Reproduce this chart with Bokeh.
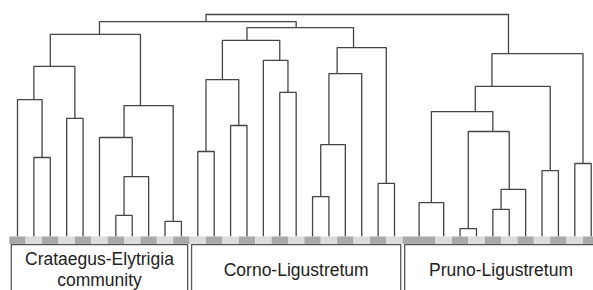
from bokeh.plotting import figure
from bokeh.models import Range1d
from bokeh.core.properties import value
from bokeh.embed import file_html
from bokeh.resources import INLINE

# ---- data ----
# leaf positions along the axis (order of the dendrogram leaves)
leaf_pos = [0, 1, 2, 3, 4, 5, 6, 7, 8, 9, 10,
            11, 12, 13, 14, 15, 16, 17, 18, 19, 20, 21, 22, 23,
            24.5, 26, 27, 28, 29, 30, 31, 32, 33, 34, 35]
leaf_width = [1] * 24 + [2] + [1] * 10

# linkage: ids < 35 are leaves, id 35+k is the k-th merge
merge_left = [6, 35, 5, 9, 37, 1, 0, 3, 41, 43,
              11, 13, 45, 16, 15, 47, 18, 51, 52, 22, 53, 50, 44,
              24, 26, 28, 60, 59, 58, 31, 63, 33, 65, 57]
merge_right = [7, 8, 36, 10, 38, 2, 40, 4, 42, 39,
               12, 14, 46, 17, 48, 49, 19, 20, 21, 23, 54, 55, 56,
               25, 27, 29, 30, 61, 62, 32, 64, 34, 66, 67]
merge_height = [0.095, 0.270, 0.446, 0.068, 0.590, 0.356, 0.617, 0.532, 0.766, 0.910,
                0.383, 0.500, 0.707, 0.649, 0.793, 0.883, 0.180, 0.414, 0.734, 0.239,
                0.851, 0.941, 0.968,
                0.153, 0.036, 0.122, 0.212, 0.473, 0.563, 0.297, 0.676, 0.329, 0.824,
                1.000]

group_lines = [["Crataegus-Elytrigia", "community"], ["Corno-Ligustretum"], ["Pruno-Ligustretum"]]
group_first_leaf = [0, 11, 24]
group_last_leaf = [10, 23, 34]

# ---- compute dendrogram geometry ----
n = len(leaf_pos)
members = {i: [i] for i in range(n)}
xpos = {i: leaf_pos[i] for i in range(n)}
hpos = {i: 0.0 for i in range(n)}
xs, ys = [], []
for k, (a, b, h) in enumerate(zip(merge_left, merge_right, merge_height)):
    nid = n + k
    members[nid] = members[a] + members[b]
    xpos[nid] = sum(leaf_pos[i] for i in members[nid]) / len(members[nid])
    hpos[nid] = h
    xs.append([xpos[a], xpos[a], xpos[b], xpos[b]])
    ys.append([hpos[a], h, h, hpos[b]])

p = figure(width=593, height=290, output_backend="svg", toolbar_location=None,
           x_range=Range1d(-1.037, 35.14), y_range=Range1d(-0.243, 1.063),
           x_axis_location=None, y_axis_location=None, min_border=0)
p.grid.visible = False
p.outline_line_color = None
p.background_fill_color = "white"
p.border_fill_color = "white"

p.multi_line(xs=xs, ys=ys, line_color="#444444", line_width=1.3)

# colour strip under the leaves
strip_top, strip_bot = 0.0, -0.034
lefts = [x - w / 2 for x, w in zip(leaf_pos, leaf_width)]
rights = [x + w / 2 for x, w in zip(leaf_pos, leaf_width)]
cols = ["#a9a9a9" if i % 2 == 0 else "#dcdcdc" for i in range(n)]
p.quad(left=lefts, right=rights, top=strip_top, bottom=strip_bot,
       fill_color=cols, line_color=None)

# group boxes and labels
inset = 0.12
box_top = -0.036
box_bot = -0.40
for lines, f, l in zip(group_lines, group_first_leaf, group_last_leaf):
    bl = lefts[f] + inset
    br = rights[l] - inset
    p.line([bl, bl, br, br], [box_bot, box_top, box_top, box_bot],
           line_color="#555555", line_width=1.3)
    cx = (bl + br) / 2
    cy = -0.149
    step = 0.095
    m = len(lines)
    ty = [cy + step * ((m - 1) / 2 - i) for i in range(m)]
    p.text(x=[cx] * m, y=ty, text=lines, text_align="center", text_baseline="middle",
           text_font=value("Liberation Sans"), text_font_size="17.5px", text_color="#222222")

open("out.html", "w").write(file_html(p, INLINE))
